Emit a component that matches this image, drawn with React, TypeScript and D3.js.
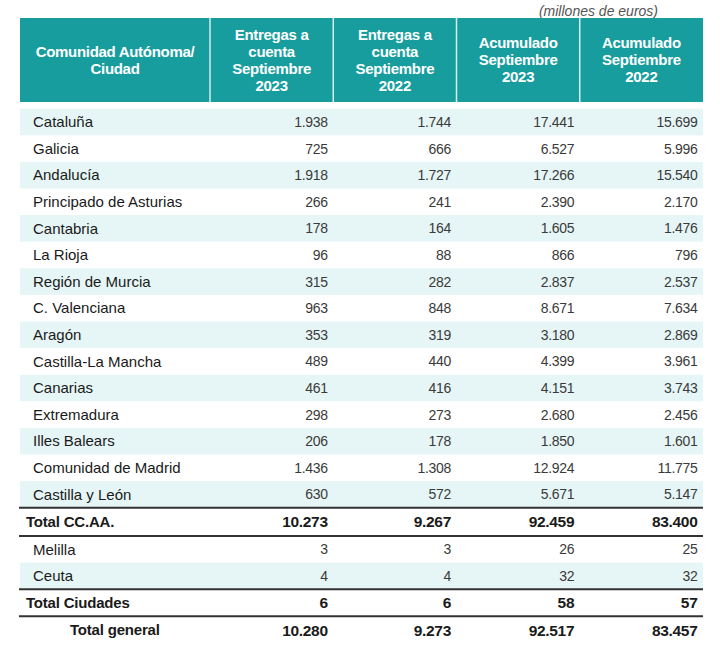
import React from "react";
import * as d3 from "d3";

const headers: string[][] = [
  ["Comunidad Autónoma/", "Ciudad"],
  ["Entregas a", "cuenta", "Septiembre", "2023"],
  ["Entregas a", "cuenta", "Septiembre", "2022"],
  ["Acumulado", "Septiembre", "2023"],
  ["Acumulado", "Septiembre", "2022"],
];

const regions = [
  "Cataluña", "Galicia", "Andalucía", "Principado de Asturias", "Cantabria", "La Rioja",
  "Región de Murcia", "C. Valenciana", "Aragón", "Castilla-La Mancha", "Canarias",
  "Extremadura", "Illes Balears", "Comunidad de Madrid", "Castilla y León",
];
const entregas2023 = [1938, 725, 1918, 266, 178, 96, 315, 963, 353, 489, 461, 298, 206, 1436, 630];
const entregas2022 = [1744, 666, 1727, 241, 164, 88, 282, 848, 319, 440, 416, 273, 178, 1308, 572];
const acumulado2023 = [17441, 6527, 17266, 2390, 1605, 866, 2837, 8671, 3180, 4399, 4151, 2680, 1850, 12924, 5671];
const acumulado2022 = [15699, 5996, 15540, 2170, 1476, 796, 2537, 7634, 2869, 3961, 3743, 2456, 1601, 11775, 5147];

const totalCCAA = [10273, 9267, 92459, 83400];
const cities = ["Melilla", "Ceuta"];
const cityValues = [
  [3, 3, 26, 25],
  [4, 4, 32, 32],
];
const totalCiudades = [6, 6, 58, 57];
const totalGeneral = [10280, 9273, 92517, 83457];

const unitNote = "(millones de euros)";

const fmt = d3.formatLocale({ decimal: ",", thousands: ".", grouping: [3], currency: ["", " €"] }).format(",d");

type Row = { kind: "region" | "total" | "city" | "grand"; label: string; values: number[]; band: boolean; h: number };

export default function App() {
  const W = 720, H = 651;
  const left = 20, right = 703, labelColRight = 210;
  const headTop = 18, headBottom = 102;
  const teal = "#179d9d";
  const bandColor = "#e6f6f6";
  const font = "'Liberation Sans', Arial, sans-serif";

  const rows: Row[] = [];
  regions.forEach((r, i) =>
    rows.push({ kind: "region", label: r, values: [entregas2023[i], entregas2022[i], acumulado2023[i], acumulado2022[i]], band: i % 2 === 0, h: 26.6 })
  );
  rows.push({ kind: "total", label: "Total CC.AA.", values: totalCCAA, band: false, h: 28.3 });
  cities.forEach((c, i) => rows.push({ kind: "city", label: c, values: cityValues[i], band: i % 2 === 1, h: 26.6 }));
  rows.push({ kind: "total", label: "Total Ciudades", values: totalCiudades, band: false, h: 27 });
  rows.push({ kind: "grand", label: "Total general", values: totalGeneral, band: false, h: 28 });

  const startY = 108.7;
  const tops: number[] = [];
  let acc = startY;
  rows.forEach((r) => { tops.push(acc); acc += r.h; });

  const colX = d3.scaleBand<number>().domain([0, 1, 2, 3]).range([labelColRight, right]);
  const bounds = [left, labelColRight, ...[1, 2, 3].map((i) => colX(i) as number), right];

  const headerCenters = bounds.slice(0, -1).map((b, i) => (b + bounds[i + 1]) / 2);
  const headMid = (headTop + headBottom) / 2;
  const lineH = 17;

  return (
    <svg width={W} height={H} style={{ position: "absolute", left: 0, top: 0, background: "#fff" }} fontFamily={font}>
      <text x={658} y={11} textAnchor="end" dy="0.35em" fontSize={14} fontStyle="italic" fill="#555">{unitNote}</text>
      <rect x={left} y={headTop} width={right - left} height={headBottom - headTop} fill={teal} />
      {bounds.slice(1, -1).map((b, i) => (
        <line key={i} x1={b} x2={b} y1={headTop} y2={headBottom} stroke="#d6eeee" strokeWidth={1.5} />
      ))}
      {headers.map((lines, ci) =>
        lines.map((t, li) => (
          <text key={ci + "-" + li} x={headerCenters[ci]} y={headMid + (li - (lines.length - 1) / 2) * lineH} dy="0.35em"
            textAnchor="middle" fontSize={15} fontWeight="bold" fill="#fff" letterSpacing={-0.3}>{t}</text>
        ))
      )}
      {rows.map((r, i) => r.band ? (
        <rect key={"b" + i} x={left} y={tops[i]} width={right - left} height={r.h} fill={bandColor} />
      ) : null)}
      {rows.map((r, i) => {
        const cy = tops[i] + r.h / 2;
        const bold = r.kind === "total" || r.kind === "grand";
        const lx = r.kind === "total" ? 26 : r.kind === "grand" ? 70 : 33;
        return (
          <g key={"r" + i}>
            <text x={lx} y={cy} dy="0.35em" fontSize={15} fontWeight={bold ? "bold" : "normal"} fill="#1a1a1a" letterSpacing={bold ? -0.2 : 0}>{r.label}</text>
            {r.values.map((v, j) => (
              <text key={j} x={(colX(j) as number) + colX.bandwidth() - 5.5} y={cy} dy="0.35em" textAnchor="end"
                fontSize={bold ? 15.5 : 14} fontWeight={bold ? "bold" : "normal"} fill={bold ? "#1a1a1a" : "#3a3a3a"}
                letterSpacing={bold ? -0.3 : -0.3}>{fmt(v)}</text>
            ))}
          </g>
        );
      })}
      {rows.map((r, i) => r.kind === "total" ? (
        <g key={"l" + i}>
          <line x1={left - 1} x2={right} y1={tops[i]} y2={tops[i]} stroke="#333" strokeWidth={2} />
          <line x1={left - 1} x2={right} y1={tops[i] + r.h} y2={tops[i] + r.h} stroke="#333" strokeWidth={2} />
        </g>
      ) : null)}
    </svg>
  );
}
